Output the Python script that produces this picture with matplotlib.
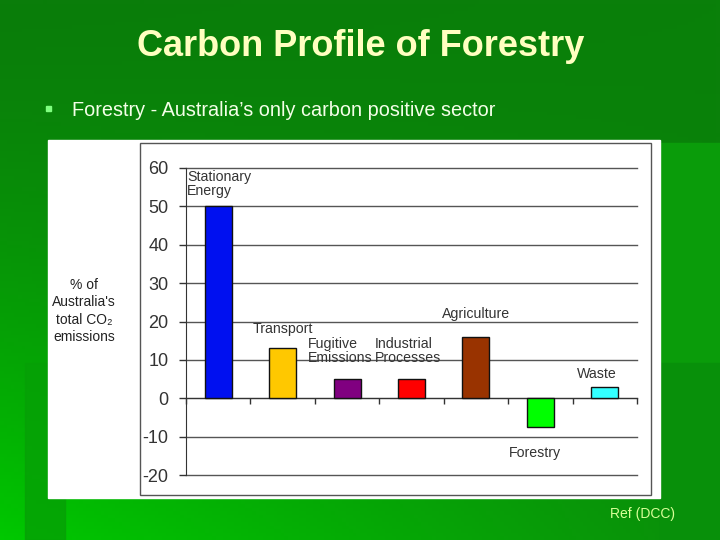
import numpy as np
import matplotlib
matplotlib.use("Agg")
import matplotlib.pyplot as plt
from matplotlib.patches import Rectangle
from matplotlib.colors import to_rgb

plt.rcParams['font.family'] = ['Liberation Sans', 'DejaVu Sans']

# datos del grafico
sectors = ["Stationary\nEnergy", "Transport", "Fugitive\nEmissions",
           "Industrial\nProcesses", "Agriculture", "Forestry", "Waste"]
shares = [50, 13, 5, 5, 16, -7.6, 3]
bar_colors = ["#0010f0", "#ffc800", "#800080", "#ff0000", "#993300", "#00ff00", "#33ffff"]
y_ticks = [-20, -10, 0, 10, 20, 30, 40, 50, 60]

# posicion de cada etiqueta: (desplazamiento x, y, alineacion)
label_pos = [(-0.48, 59.6, "left", "top"), (0.0, 18.1, "center", "center"),
             (-0.61, 12.2, "left", "center"), (-0.57, 12.2, "left", "center"),
             (0.0, 22.0, "center", "center"), (-0.08, -14.2, "center", "center"),
             (-0.12, 6.4, "center", "center")]

fig = plt.figure(figsize=(7.2, 5.4), dpi=100)

# fondo verde de la diapositiva
bg = fig.add_axes([0, 0, 1, 1])
bg.set_xlim(0, 720)
bg.set_ylim(540, 0)
bg.axis("off")
tl, tr, bl, br = [np.array(to_rgb(c)) for c in ("#0a7d0a", "#0a800a", "#00c800", "#0a8e0a")]
u = np.linspace(0, 1, 200)[None, :, None]
v = np.linspace(0, 1, 150)[:, None, None]
v = v ** 1.5
grad = (1 - v) * ((1 - u) * tl + u * tr) + v * ((1 - u) * bl + u * br)
bg.imshow(grad, extent=(0, 720, 540, 0), aspect="auto", zorder=0)
bg.add_patch(Rectangle((25, 363), 40, 177, color="#06a006", alpha=0.8, zorder=1))
bg.add_patch(Rectangle((660, 143), 60, 220, color="#0a9c0a", zorder=1))
bg.add_patch(Rectangle((660, 363), 60, 177, color="#08900a", zorder=1))

# panel blanco y recuadro del grafico
bg.add_patch(Rectangle((48, 140), 612, 358, color="white", zorder=2))
bg.add_patch(Rectangle((140, 143), 511, 352, facecolor="none", edgecolor="#555555", lw=1.0, zorder=3))

bg.text(361, 46, "Carbon Profile of Forestry", ha="center", va="center",
        fontsize=26, fontweight="bold", color="#ffffc0", zorder=4)
bg.add_patch(Rectangle((46, 106), 5, 5, color="#80ff80", zorder=4))
bg.text(72, 110, "Forestry - Australia\u2019s only carbon positive sector", ha="left", va="center",
        fontsize=14.3, color="#f4ffe8", zorder=4)
bg.text(643, 514, "Ref (DCC)", ha="center", va="center", fontsize=10, color="#d8ff98", zorder=4)
bg.text(84, 311, "% of\nAustralia's\ntotal CO\u2082\nemissions", ha="center", va="center",
        fontsize=10, color="#222222", linespacing=1.3, zorder=4)

# grafico de barras
ax = fig.add_axes([186 / 720, 1 - 475 / 540, 451 / 720, 307 / 540])
ax.set_facecolor("none")
x = np.arange(len(sectors))
ax.bar(x, shares, width=0.42, color=bar_colors, edgecolor="#111111", linewidth=1.0, zorder=3)
ax.set_xlim(-0.5, len(sectors) - 0.5)
ax.set_ylim(-20, 60)
ax.set_yticks(y_ticks)
ax.set_yticklabels([str(t) for t in y_ticks])
ax.set_xticks(np.arange(-0.5, len(sectors)))
ax.set_xticklabels([])
ax.tick_params(axis="y", labelsize=13, length=5, width=1, pad=7.5, colors="#333333")
ax.tick_params(axis="x", length=4, width=1, colors="#333333")
for t in y_ticks:
    ax.axhline(t, color="#555555", lw=1.0, zorder=1, clip_on=False)
for s in ("top", "right"):
    ax.spines[s].set_visible(False)
ax.spines["bottom"].set_position(("data", 0))
ax.spines["bottom"].set_color("#333333")
ax.spines["left"].set_color("#333333")

for i, (name, (dx, ly, ha, va)) in enumerate(zip(sectors, label_pos)):
    ax.text(x[i] + dx, ly, name, ha=ha, va=va, fontsize=10.2, color="#333333",
            linespacing=1.0, zorder=4)

fig.savefig("out.png", dpi=100)
